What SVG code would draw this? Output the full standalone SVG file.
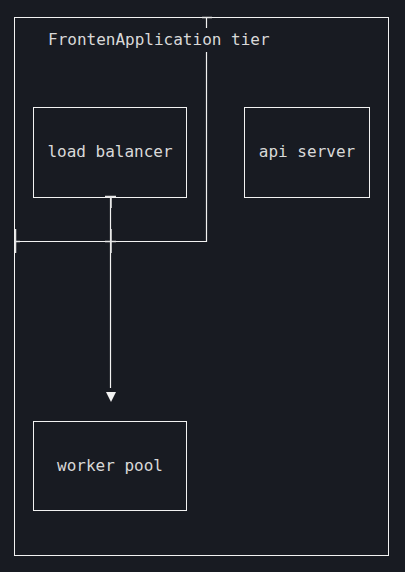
<svg xmlns="http://www.w3.org/2000/svg" width="405" height="572" viewBox="0 0 405 572">
<style>
.box{fill:none;stroke:#f2f2f2;stroke-width:1}
.lbl{font-family:"DejaVu Sans Mono",monospace;font-size:16px;fill:#d9d9d9}
.edge{fill:none;stroke:#f2f2f2;stroke-width:1.2}
.tick{fill:none;stroke:#e6e6e6;stroke-width:1.5}
</style>
<rect width="405" height="572" fill="#181b22"/>
<g id="container">
<rect class="box" x="14.5" y="17.5" width="374" height="538"/>
<text class="lbl" x="48" y="45">FrontenApplication tier</text>
</g>
<g id="load-balancer">
<rect class="box" x="33.5" y="107.5" width="153" height="90"/>
<text class="lbl" x="110" y="157" text-anchor="middle">load balancer</text>
</g>
<g id="api-server">
<rect class="box" x="244.5" y="107.5" width="125" height="90"/>
<text class="lbl" x="307" y="157" text-anchor="middle">api server</text>
</g>
<g id="worker-pool">
<rect class="box" x="33.5" y="421.5" width="153" height="89"/>
<text class="lbl" x="110" y="471" text-anchor="middle">worker pool</text>
</g>
<g id="connectors">
<path class="edge" d="M206.5,17 V28 M206.5,52 V241.5 H15"/>
<path class="tick" d="M202,17.5 H212 M15.5,229 V253 M15,241.5 H20"/>
<path class="edge" d="M110.5,197 V388"/>
<polygon points="106,392 116,392 111,402" fill="#f2f2f2"/>
<path class="tick" d="M105,196.5 H116 M111,197 V208 M111,229 V253 M105,241.5 H116"/>
</g>
</svg>
